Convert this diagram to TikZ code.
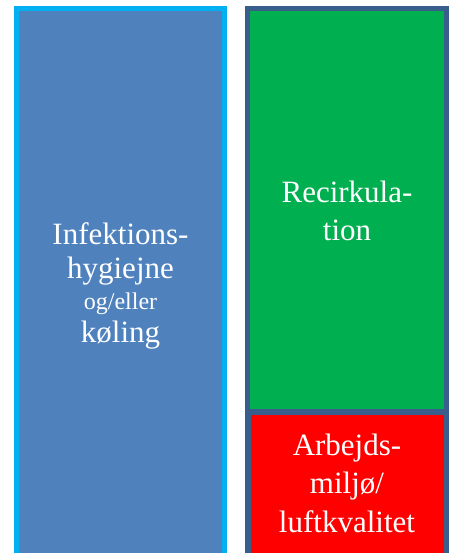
\documentclass[tikz,border=0pt]{standalone}
\usepackage{fontspec}
\setmainfont{Liberation Serif}
\definecolor{cyanline}{HTML}{00B0F0}
\definecolor{bluefill}{HTML}{4F81BD}
\definecolor{greenfill}{HTML}{00B050}
\definecolor{redfill}{HTML}{FF0000}
\definecolor{frameblue}{HTML}{3A5E8C}
\begin{document}
\begin{tikzpicture}[x=1pt,y=-1pt,
  lbl/.style={text=white,align=center,inner sep=0pt,anchor=center}]
\useasboundingbox (0,0) rectangle (454,553);
% left column
\fill[cyanline] (14,6.5) rectangle (227,553);
\fill[bluefill] (19,11.5) rectangle (222,553);
% right column frame
\fill[frameblue] (245,6.5) rectangle (449,553);
\fill[greenfill] (250,11.5) rectangle (444,408.5);
\fill[redfill] (251,415) rectangle (444,553);
% labels
\node[lbl,font=\fontsize{31}{34}\selectfont] (left) at (120.5,285.5)
  {Infektions-\\hygiejne\\[-3pt]{\fontsize{24}{24}\selectfont og/eller}\\[-1pt]køling};
\node[lbl,font=\fontsize{31}{38}\selectfont] (green) at (347,210.5)
  {Recirkula-\\tion};
\node[lbl,font=\fontsize{31}{38.5}\selectfont] (red) at (347,483)
  {Arbejds-\\miljø/\\luftkvalitet};
\end{tikzpicture}
\end{document}
